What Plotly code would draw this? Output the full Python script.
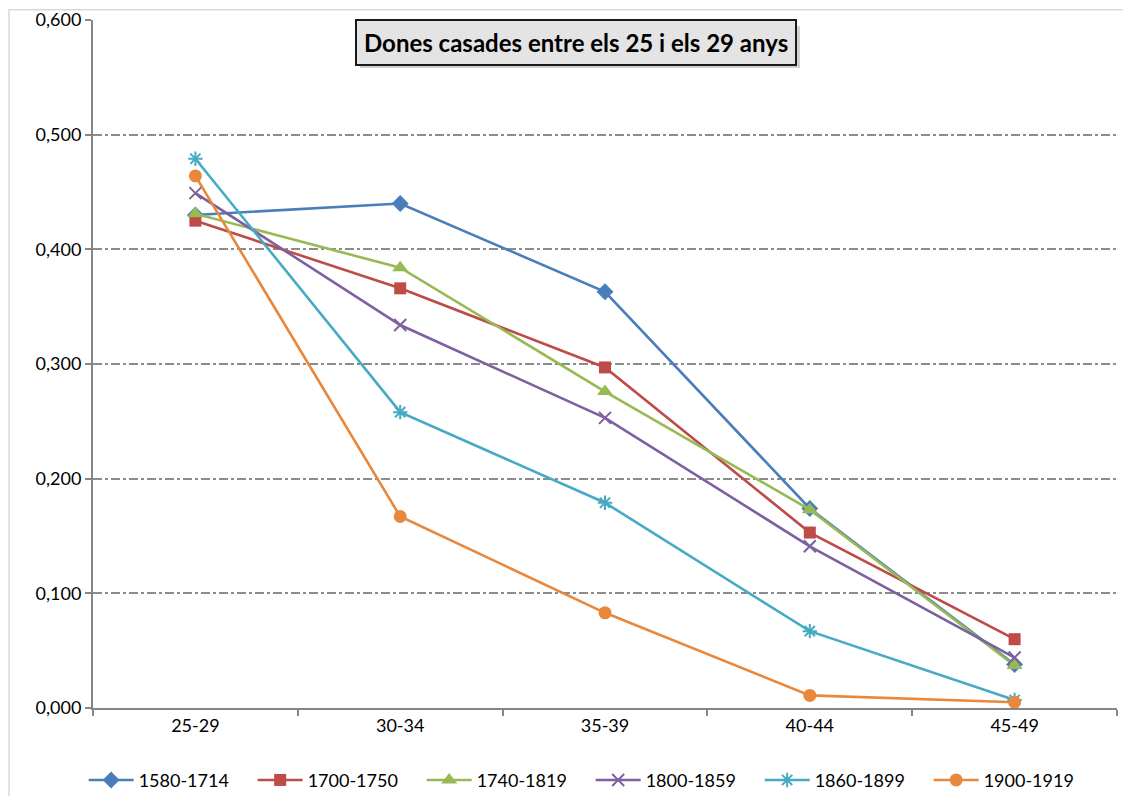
import plotly.graph_objects as go

age_groups = ['25-29', '30-34', '35-39', '40-44', '45-49']

s1580_1714 = [0.430, 0.440, 0.363, 0.174, 0.038]
s1700_1750 = [0.425, 0.366, 0.297, 0.153, 0.060]
s1740_1819 = [0.431, 0.384, 0.276, 0.173, 0.037]
s1800_1859 = [0.449, 0.334, 0.253, 0.141, 0.044]
s1860_1899 = [0.479, 0.258, 0.179, 0.067, 0.007]
s1900_1919 = [0.464, 0.167, 0.083, 0.011, 0.005]

series_names = ['1580-1714', '1700-1750', '1740-1819', '1800-1859', '1860-1899', '1900-1919']
series_values = [s1580_1714, s1700_1750, s1740_1819, s1800_1859, s1860_1899, s1900_1919]

colors = ['#4A7EBB', '#BE4B48', '#98B954', '#7D60A0', '#46AAC5', '#E8883C']
symbols = ['diamond', 'square', 'triangle-up', 'x-thin', 'asterisk', 'circle']
sizes = [13, 12, 14, 12, 12, 13]

fig = go.Figure()
for name, vals, col, sym, sz in zip(series_names, series_values, colors, symbols, sizes):
    line_marker = sym in ('x-thin', 'asterisk')
    fig.add_trace(go.Scatter(
        x=age_groups, y=vals, name=name, mode='lines+markers',
        line=dict(color=col, width=2.6),
        marker=dict(symbol=sym, size=sz, color=col,
                    line=dict(color=col, width=2 if line_marker else 0)),
    ))

# chart frame
fig.add_shape(type='rect', xref='paper', yref='paper',
              x0=-0.082, x1=1.2, y0=-0.3, y1=1.015,
              line=dict(color='#D9D9D9', width=1.5), layer='below')

# title box with a faint shadow
fig.add_shape(type='rect', xref='paper', yref='paper',
              x0=0.2607, x1=0.6904, y0=0.9302, y1=0.9913,
              fillcolor='rgba(0,0,0,0.18)', line=dict(width=0), layer='above')
fig.add_annotation(
    text='<b>Dones casades entre els 25 i els 29 anys</b>',
    xref='paper', yref='paper', x=0.4717, y=0.9666,
    xanchor='center', yanchor='middle', showarrow=False,
    font=dict(family='Lato, sans-serif', size=24, color='black'),
    bgcolor='#E4E4E4', bordercolor='#1A1A1A', borderwidth=2, borderpad=7,
)

# page body adds an 8px offset, so the figure is sized to the remaining window
fig.update_layout(
    width=1123, height=788,
    margin=dict(l=85, r=14, t=12, b=88, autoexpand=False),
    paper_bgcolor='white', plot_bgcolor='white',
    separators=', ',
    font=dict(family='Lato, sans-serif', size=15, color='black'),
    showlegend=True,
    legend=dict(orientation='h', x=0.486, y=-0.105, xanchor='center', yanchor='middle',
                font=dict(size=18), itemwidth=45, entrywidth=109, entrywidthmode='pixels'),
    xaxis=dict(
        range=[-0.5, 4.5], showline=True, linecolor='#868686', linewidth=2,
        ticks='outside', tickson='boundaries', ticklen=6, tickcolor='#868686', tickwidth=1.5,
        showgrid=False, tickfont=dict(size=18), fixedrange=True,
    ),
    yaxis=dict(
        range=[0, 0.6], dtick=0.1, tickformat='.3f',
        showline=True, linecolor='#868686', linewidth=2,
        ticks='outside', ticklen=6, tickcolor='#868686', tickwidth=1.5,
        showgrid=True, gridcolor='#8C8C8C', gridwidth=1.5, griddash='dashdot',
        zeroline=False, tickfont=dict(size=18), fixedrange=True,
    ),
)

fig.write_html('out.html')
